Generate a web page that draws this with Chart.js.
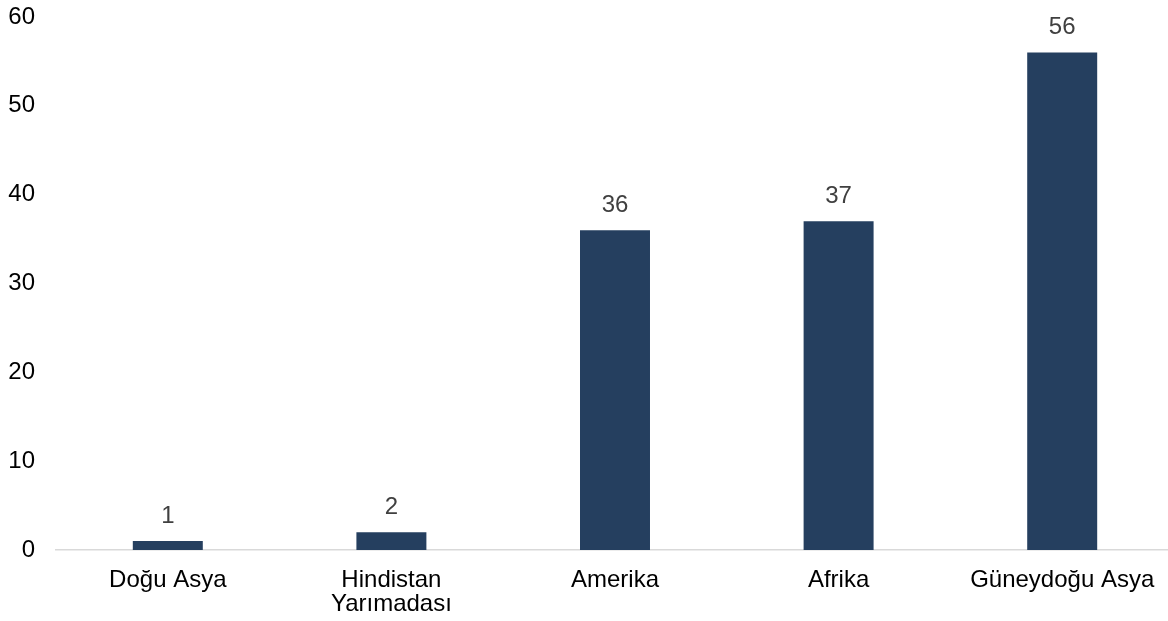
<!DOCTYPE html>
<html lang="tr">
<head>
<meta charset="utf-8">
<title>Bölgelere göre dağılım</title>
<script src="https://cdn.jsdelivr.net/npm/chart.js@4.4.1/dist/chart.umd.min.js"></script>
<style>
  html, body { margin: 0; padding: 0; background: #ffffff; overflow: hidden; }
  #wrap { width: 1168px; height: 621px; position: relative; overflow: hidden; }
  #chart { position: absolute; left: 0; top: 0; }
</style>
</head>
<body>
<div id="wrap"><canvas id="chart" width="1174" height="621"></canvas></div>
<script>
// Regions on the category axis (multi-line labels as arrays)
const categories = [
  'Doğu Asya',
  ['Hindistan', 'Yarımadası'],
  'Amerika',
  'Afrika',
  'Güneydoğu Asya'
];
// Count per region
const values = [1, 2, 36, 37, 56];
// Value axis ticks
const yTicks = [0, 10, 20, 30, 40, 50, 60];

const FONT = 'Arial, "Liberation Sans", sans-serif';
const FONT_SIZE = 24;

// Writes each bar's value just above the bar
const valueLabels = {
  id: 'valueLabels',
  afterDatasetsDraw(chart) {
    const ctx = chart.ctx;
    const meta = chart.getDatasetMeta(0);
    ctx.save();
    ctx.font = FONT_SIZE + 'px ' + FONT;
    ctx.fillStyle = '#404040';
    ctx.textAlign = 'center';
    ctx.textBaseline = 'middle';
    meta.data.forEach((bar, i) => {
      ctx.fillText(String(values[i]), bar.x, bar.y - 25);
    });
    ctx.restore();
  }
};

new Chart(document.getElementById('chart'), {
  type: 'bar',
  data: {
    labels: categories,
    datasets: [{
      data: values,
      backgroundColor: '#253f5f',
      borderWidth: 0,
      barPercentage: 0.313,
      categoryPercentage: 1
    }]
  },
  options: {
    responsive: false,
    animation: false,
    devicePixelRatio: 1,
    layout: { padding: { left: 0, right: 0, top: 17, bottom: 0 } },
    plugins: {
      legend: { display: false },
      tooltip: { enabled: false }
    },
    scales: {
      x: {
        grid: { display: false, drawTicks: false },
        border: { display: true, color: '#d9d9d9', width: 1.5 },
        ticks: {
          color: '#000000',
          font: { family: FONT, size: FONT_SIZE, lineHeight: 1.0 },
          padding: 18,
          maxRotation: 0,
          autoSkip: false
        },
        afterFit(scale) { scale.height = 71; }
      },
      y: {
        min: 0,
        max: 60,
        afterBuildTicks(scale) { scale.ticks = yTicks.map(v => ({ value: v })); },
        // hidden tick marks; their length sets the gap between labels and plot
        grid: { display: false, drawTicks: true, tickLength: 21 },
        border: { display: false },
        ticks: {
          color: '#000000',
          font: { family: FONT, size: FONT_SIZE },
          padding: 0
        },
        afterFit(scale) { scale.width = 56; }
      }
    }
  },
  plugins: [valueLabels]
});
</script>
</body>
</html>
